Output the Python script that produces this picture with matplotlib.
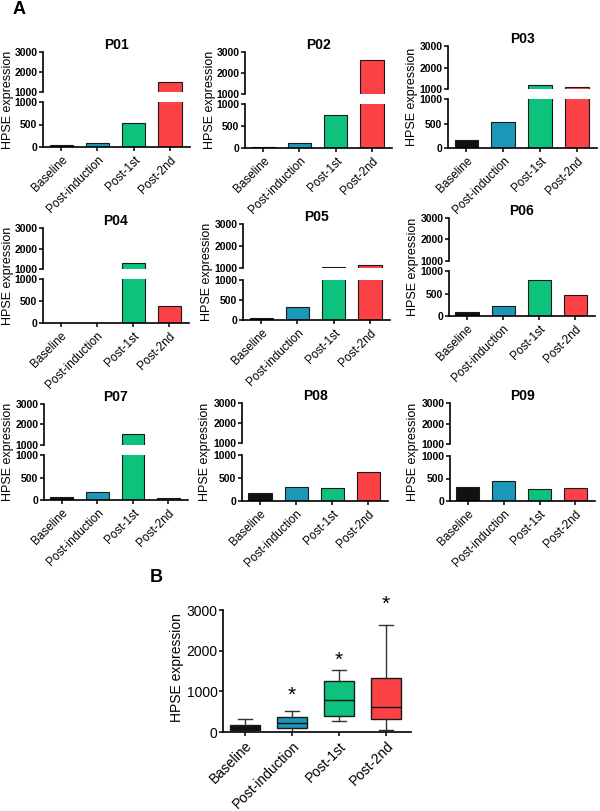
import numpy as np
import matplotlib
matplotlib.use('Agg')
import matplotlib.pyplot as plt

plt.rcParams['font.family'] = ['Liberation Sans', 'DejaVu Sans']

# data (HPSE expression per patient)
patients = ['P01', 'P02', 'P03', 'P04', 'P05', 'P06', 'P07', 'P08', 'P09']
categories = ['Baseline', 'Post-induction', 'Post-1st', 'Post-2nd']
baseline = [50, 30, 160, 0, 50, 95, 70, 180, 310]
post_induction = [85, 120, 524, 0, 320, 230, 185, 300, 440]
post_1st = [530, 740, 1190, 1300, 1040, 790, 1520, 280, 260]
post_2nd = [1490, 2620, 1100, 380, 1150, 460, 55, 620, 280]
significant = [False, True, True, True]

colors = ['#111111', '#1b98b8', '#0cc27c', '#fc4246']
edge = '#1a1a1a'

W, H = 600, 811
fig = plt.figure(figsize=(W / 100, H / 100), dpi=100)


def px_axes(x0, x1, y0, y1):
    return fig.add_axes([x0 / W, 1 - y1 / H, (x1 - x0) / W, (y1 - y0) / H])


# layout in pixels: x0, x1, upper top, upper bottom, lower top, lower bottom, ylabel x
layout = [
    (43, 190, 52, 92, 102, 147, 8),
    (245, 392, 52, 94, 104, 148, 210),
    (448, 597, 46, 89, 99, 148, 412),
    (43, 189, 228, 269, 279, 323, 8),
    (243, 390, 224, 268, 280, 320, 207),
    (449, 595, 218, 261, 271, 316, 413),
    (44, 188, 404, 445, 455, 500, 8),
    (242, 388, 403, 443, 455, 501, 205),
    (450, 595, 403, 444, 456, 501, 413),
]

x = np.arange(len(categories))

for i, name in enumerate(patients):
    x0, x1, ut, ub, lt, lb, lx = layout[i]
    vals = [baseline[i], post_induction[i], post_1st[i], post_2nd[i]]
    axu = px_axes(x0, x1, ut, ub)
    axl = px_axes(x0, x1, lt, lb)
    for ax in (axu, axl):
        ax.bar(x, vals, width=0.64, color=colors, edgecolor=edge, linewidth=0.8)
        ax.set_xlim(-0.5, 3.55)
        ax.spines['top'].set_visible(False)
        ax.spines['right'].set_visible(False)
        ax.spines['left'].set_linewidth(1.2)
        ax.spines['bottom'].set_linewidth(1.2)
        ax.tick_params(axis='y', length=3, width=1.1, pad=1, labelsize=7.5)
    axu.set_ylim(1000, 3000)
    axu.set_yticks([1000, 2000, 3000])
    axu.spines['bottom'].set_visible(False)
    axu.set_xticks([])
    axl.set_ylim(0, 1000)
    axl.set_yticks([0, 500, 1000])
    for ax in (axu, axl):
        for t in ax.get_yticklabels():
            t.set_fontweight('bold')
    axl.set_xticks(x)
    axl.set_xticklabels(categories, rotation=45, ha='right', rotation_mode='anchor', fontsize=8.5)
    axl.tick_params(axis='x', length=3, width=1.1, pad=2)
    axu.set_title(name, fontsize=10, fontweight='bold', pad=1)
    fig.text(lx / W, 1 - (ut + lb) / 2 / H, 'HPSE expression', rotation=90,
             ha='center', va='center', fontsize=9)

fig.text(13 / W, 1 - 9 / H, 'A', fontsize=13, fontweight='bold', ha='left', va='center')

# panel B: box plot of all patients (whiskers min to max)
groups = [baseline, post_induction, post_1st, post_2nd]
stats = []
for name, v in zip(categories, groups):
    q1, med, q3 = np.percentile(v, [25, 50, 75], method='weibull')
    stats.append(dict(med=med, q1=q1, q3=q3, whislo=min(v), whishi=max(v),
                      fliers=[], label=name))

axb = px_axes(223, 411, 610, 732)
bp = axb.bxp(stats, positions=x, widths=0.65, patch_artist=True, showfliers=False,
             capwidths=0.3,
             boxprops=dict(linewidth=1.0, edgecolor=edge),
             whiskerprops=dict(linewidth=1.0, color='#333333'),
             capprops=dict(linewidth=1.0, color='#333333'),
             medianprops=dict(linewidth=1.0, color='#111111'))
for patch, c in zip(bp['boxes'], colors):
    patch.set_facecolor(c)
axb.set_xlim(-0.47, 3.53)
axb.set_ylim(0, 3000)
axb.set_yticks([0, 1000, 2000, 3000])
axb.spines['top'].set_visible(False)
axb.spines['right'].set_visible(False)
axb.spines['left'].set_linewidth(1.2)
axb.spines['bottom'].set_linewidth(1.2)
axb.tick_params(axis='y', length=3, width=1.1, pad=1, labelsize=10)
axb.set_xticks(x)
axb.set_xticklabels(categories, rotation=45, ha='right', rotation_mode='anchor', fontsize=10)
axb.tick_params(axis='x', length=3, width=1.1, pad=2)

# significance stars
star_y = [0, 900, 1760, 3140]
for xi, sig, sy in zip(x, significant, star_y):
    if sig:
        axb.text(xi, sy, '*', ha='center', va='center', fontsize=15, clip_on=False)

fig.text(177 / W, 1 - 668 / H, 'HPSE expression', rotation=90, ha='center', va='center', fontsize=10)
fig.text(150 / W, 1 - 578 / H, 'B', fontsize=13, fontweight='bold', ha='left', va='center')

fig.savefig('out.png', dpi=100)
